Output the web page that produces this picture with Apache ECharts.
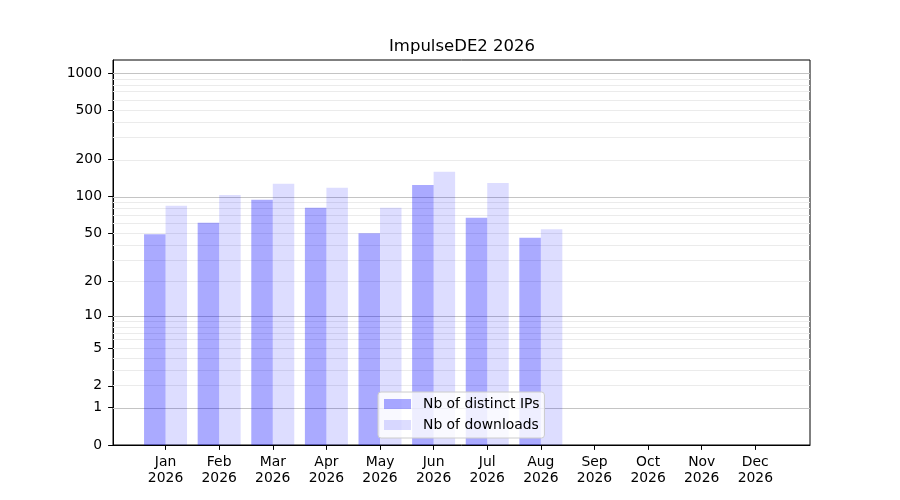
<!DOCTYPE html>
<html>
<head>
<meta charset="utf-8">
<script src="https://cdn.jsdelivr.net/npm/echarts@6/dist/echarts.min.js"></script>
<style>
  html, body { margin: 0; padding: 0; background: #fff; }
  #chart { width: 900px; height: 500px; }
</style>
</head>
<body>
<div id="chart"></div>
<script>
// données
var months = ['Jan', 'Feb', 'Mar', 'Apr', 'May', 'Jun', 'Jul', 'Aug', 'Sep', 'Oct', 'Nov', 'Dec'];
var year = '2026';
var distinctIPs = [49, 61, 94, 81, 50, 124, 67, 46];
var downloads = [84, 103, 127, 118, 81, 159, 129, 54];
var yTicks = [0, 1, 2, 5, 10, 20, 50, 100, 200, 500, 1000];
var majorGrid = [1, 10, 100, 1000];
var minorGrid = [2, 3, 4, 5, 6, 7, 8, 9, 20, 30, 40, 50, 60, 70, 80, 90,
                 200, 300, 400, 500, 600, 700, 800, 900];

// échelle log10(x + 1)
function tr(v) { return Math.log(v + 1) / Math.LN10; }

var chart = echarts.init(document.getElementById('chart'));

var font = 'DejaVu Sans';

var gridLines = [];
minorGrid.forEach(function (v) {
    gridLines.push({ yAxis: tr(v), lineStyle: { color: '#ebebeb', width: 1.1, type: 'solid' } });
});
majorGrid.forEach(function (v) {
    gridLines.push({ yAxis: tr(v), lineStyle: { color: '#c4c4c4', width: 1.1, type: 'solid' } });
});

var option = {
    animation: false,
    textStyle: { fontFamily: font },
    title: {
        text: 'ImpulseDE2 ' + year,
        left: 384,
        top: 33,
        textStyle: { fontFamily: font, fontSize: 16.5, fontWeight: 'normal', color: '#000' }
    },
    legend: {
        orient: 'vertical',
        left: 378,
        top: 392,
        padding: [5, 5, 6, 6],
        itemWidth: 27,
        itemHeight: 10,
        itemGap: 7,
        icon: 'rect',
        backgroundColor: 'rgba(255,255,255,0.8)',
        borderColor: '#cccccc',
        borderWidth: 1,
        borderRadius: 3,
        textStyle: { fontFamily: font, fontSize: 13.9, color: '#000', lineHeight: 14, padding: [0, 0, 0, 7] },
        data: ['Nb of distinct IPs', 'Nb of downloads']
    },
    grid: {
        left: 113,
        right: 90,
        top: 60,
        bottom: 55,
        show: true,
        borderColor: '#000',
        borderWidth: 1,
        backgroundColor: 'transparent'
    },
    xAxis: {
        type: 'value',
        min: -0.98,
        max: 12.02,
        axisLine: { show: true, onZero: false, lineStyle: { color: '#000', width: 1 } },
        axisTick: {
            show: true,
            length: 4.9,
            lineStyle: { color: '#000' },
            customValues: months.map(function (m, i) { return i; })
        },
        axisLabel: {
            margin: 9,
            fontFamily: font,
            fontSize: 13.9,
            lineHeight: 16,
            color: '#000',
            customValues: months.map(function (m, i) { return i; }),
            formatter: function (v) { return months[Math.round(v)] + '\n' + year; }
        },
        splitLine: { show: false }
    },
    yAxis: {
        type: 'value',
        min: 0,
        max: 3.105,
        axisLine: { show: true, onZero: false, lineStyle: { color: '#000', width: 1 } },
        axisTick: {
            show: true,
            length: 4.9,
            lineStyle: { color: '#000' },
            customValues: yTicks.map(tr)
        },
        axisLabel: {
            margin: 11,
            fontFamily: font,
            fontSize: 13.9,
            color: '#000',
            padding: [3, 0, 0, 0],
            customValues: yTicks.map(tr),
            formatter: function (v) { return String(Math.round(Math.pow(10, v) - 1)); }
        },
        splitLine: { show: false }
    },
    series: [
        {
            name: 'Nb of distinct IPs',
            type: 'bar',
            z: 3,
            barWidth: 21.5,
            barGap: '0%',
            itemStyle: { color: 'rgba(0,0,255,0.333)' },
            data: distinctIPs.map(function (v, i) { return [i, tr(v)]; }),
            markLine: {
                z: 1,
                silent: true,
                symbol: 'none',
                label: { show: false },
                data: gridLines
            }
        },
        {
            name: 'Nb of downloads',
            type: 'bar',
            z: 3,
            barWidth: 21.5,
            barGap: '0%',
            itemStyle: { color: 'rgba(0,0,255,0.133)' },
            data: downloads.map(function (v, i) { return [i, tr(v)]; })
        }
    ]
};

chart.setOption(option);
</script>
</body>
</html>
